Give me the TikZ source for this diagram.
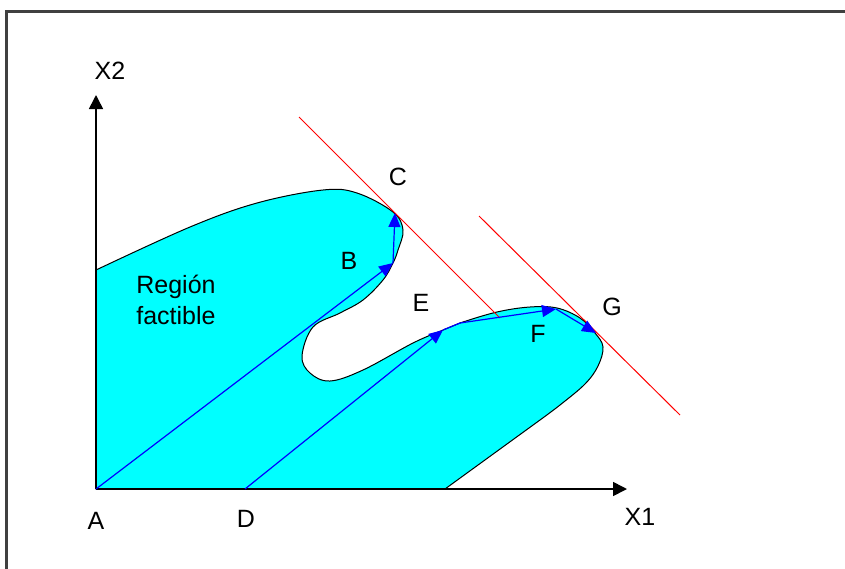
\documentclass[tikz,border=0pt]{standalone}
\usepackage{fontspec}
\setmainfont{Liberation Sans}
\usepackage{xcolor}
\usetikzlibrary{arrows.meta, positioning}
\definecolor{regcyan}{RGB}{0,255,255}
\definecolor{vecblue}{RGB}{0,0,255}
\definecolor{isored}{RGB}{255,0,0}
\definecolor{framegray}{RGB}{64,64,64}
\tikzstyle{region} = [draw=black, fill=regcyan, line width=0.5pt]
\tikzstyle{axis}   = [-{Triangle[length=7pt, width=7pt]}, line width=0.8pt, black]
\tikzstyle{vec}    = [-{Triangle[length=7pt, width=6pt]}, line width=0.6pt, vecblue]
\tikzstyle{isoline}= [isored, line width=0.5pt]
\tikzstyle{lbl}    = [inner sep=0pt, font=\fontsize{12.5}{15.5}\selectfont]

\begin{document}
\begin{tikzpicture}[x=0.5pt, y=-0.5pt]
  \useasboundingbox (0,0) rectangle (845,568);

  % frame
  \draw[framegray, line width=1.5pt] (6,580) -- (6,11) -- (860,11);

  % feasible region
  \draw[region] (96,489) -- plot[smooth, tension=0.6] coordinates {
      (96,270) (190,227) (257,203) (323,190) (357,193) (393,212)
      (403,230) (398,250) (393,263) (383,280) (363,300) (340,313)
      (313,327) (302,356) (310,373) (330,381) (363,370) (413,343)
      (443,330) (460,323) (497,312) (530,307) (557,308) (580,318)
      (595,333) (603,347) (598,366) (585,384) (560,405) (540,420)}
    -- (445,489) -- cycle;

  % points
  \coordinate (A) at (96,489);
  \coordinate (B) at (393,263);
  \coordinate (C) at (395,213);
  \coordinate (D) at (245,489);
  \coordinate (E) at (443,330);
  \coordinate (E1) at (460,323);
  \coordinate (F) at (556,309);
  \coordinate (G) at (596,333);
  \coordinate (x1end) at (627,489);
  \coordinate (x2end) at (96,95);

  % axes
  \draw[axis] (A) -- (x1end);
  \draw[axis] (A) -- (x2end);

  % objective lines
  \coordinate (r1a) at (299,117);
  \coordinate (r1b) at (500,318);
  \coordinate (r2a) at (479,216);
  \coordinate (r2b) at (680,415);
  \draw[isoline] (r1a) -- (r1b);
  \draw[isoline] (r2a) -- (r2b);

  % paths
  \draw[vec] (A) -- (B);
  \draw[vec] (B) -- (C);
  \draw[vec] (D) -- (E);
  \draw[vec] (E) -- (E1) -- (F);
  \draw[vec] (F) -- (G);

  % labels
  \node[lbl] (lA)  at (96,521)  {A};
  \node[lbl] (lD)  at (246,519) {D};
  \node[lbl] (lX1) at (640,517) {X1};
  \node[lbl] (lX2) at (110,71)  {X2};
  \node[lbl] (lB)  at (349,261) {B};
  \node[lbl] (lC)  at (398,177) {C};
  \node[lbl] (lE)  at (421,303) {E};
  \node[lbl] (lF)  at (538,334) {F};
  \node[lbl] (lG)  at (612,307) {G};
  \node[lbl, align=center] (lreg) at (176,300) {Región\\factible};

\end{tikzpicture}
\end{document}
